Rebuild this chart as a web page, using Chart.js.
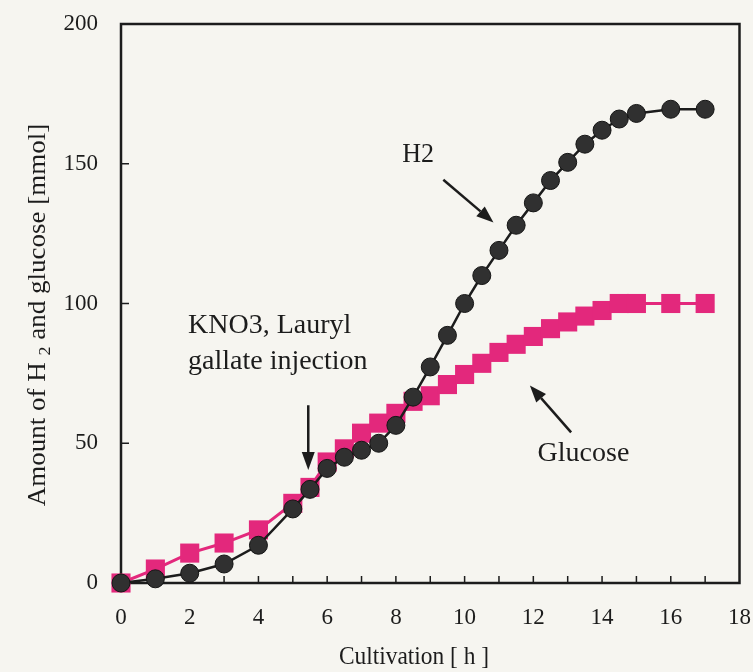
<!DOCTYPE html>
<html><head><meta charset="utf-8">
<script src="https://cdn.jsdelivr.net/npm/chart.js@4/dist/chart.umd.min.js"></script>
<style>html,body{margin:0;padding:0;background:#f6f5f0;}#wrap{width:753px;height:672px;}</style>
</head><body><div id="wrap"><canvas id="c" width="753" height="672"></canvas></div>
<script>
// ---- data ----
const hours = [0,1,2,3,4,5,5.5,6,6.5,7,7.5,8,8.5,9,9.5,10,10.5,11,11.5,12,12.5,13,13.5,14,14.5,15,16,17];
const h2Amount = [0,1.5,3.5,6.8,13.5,26.5,33.5,41,45,47.5,50,56.4,66.5,77.3,88.6,100,110,119,128,136,144,150.5,157,162,166,168,169.5,169.5];
const glucoseAmount = [0,5,10.7,14.3,19,28.5,34.2,43.3,48,53.6,57.2,60.7,65,67,71,74.6,78.6,82.5,85.4,88.2,91,93.4,95.5,97.5,100,100,100,100];
const xTickValues = [0,2,4,6,8,10,12,14,16,18];
const yTickValues = [0,50,100,150,200];
const xAxisTitle = 'Cultivation [ h ]';
const yAxisTitleParts = ['Amount of H ', '2', ' and glucose [mmol]'];
const labelH2 = 'H2';
const labelGlucose = 'Glucose';
const labelInjection = ['KNO3, Lauryl', 'gallate injection'];

const INK = '#1c1c1c';
const PINK = '#e3287c';
const SERIF = '"Liberation Serif", "DejaVu Serif", serif';

function arrow(ctx, x1, y1, x2, y2, headLen, headW) {
  const ang = Math.atan2(y2 - y1, x2 - x1);
  const bx = x2 - headLen * Math.cos(ang), by = y2 - headLen * Math.sin(ang);
  ctx.beginPath(); ctx.moveTo(x1, y1); ctx.lineTo(bx, by); ctx.stroke();
  ctx.beginPath();
  ctx.moveTo(x2, y2);
  ctx.lineTo(bx + headW / 2 * Math.sin(ang), by - headW / 2 * Math.cos(ang));
  ctx.lineTo(bx - headW / 2 * Math.sin(ang), by + headW / 2 * Math.cos(ang));
  ctx.closePath(); ctx.fill();
}
function squishText(ctx, txt, x, y, sx, align) {
  ctx.save(); ctx.translate(x, y); ctx.scale(sx, 1);
  ctx.textAlign = align || 'left'; ctx.fillText(txt, 0, 0); ctx.restore();
}

const decor = {
  id: 'decor',
  beforeDraw(chart) {
    const ctx = chart.ctx; ctx.save();
    ctx.fillStyle = '#f6f5f0'; ctx.fillRect(0, 0, chart.width, chart.height); ctx.restore();
  },
  beforeDatasetsDraw(chart) {
    const ctx = chart.ctx, a = chart.chartArea, xs = chart.scales.x, ys = chart.scales.y;
    ctx.save();
    ctx.strokeStyle = INK; ctx.lineWidth = 2.5;
    ctx.strokeRect(a.left, a.top, a.right - a.left, a.bottom - a.top);
    ctx.lineWidth = 1.5;
    ctx.beginPath();
    for (let h = 1; h < 18; h++) {
      const px = xs.getPixelForValue(h);
      ctx.moveTo(px, a.bottom); ctx.lineTo(px, a.bottom - 7);
    }
    for (const v of yTickValues) {
      if (v === 0 || v === 200) continue;
      const py = ys.getPixelForValue(v);
      ctx.moveTo(a.left, py); ctx.lineTo(a.left + 8, py);
    }
    ctx.stroke();
    ctx.restore();
  },
  afterDraw(chart) {
    const ctx = chart.ctx, a = chart.chartArea, xs = chart.scales.x, ys = chart.scales.y;
    const X = v => xs.getPixelForValue(v), Y = v => ys.getPixelForValue(v);
    ctx.save();
    ctx.fillStyle = INK; ctx.strokeStyle = INK;
    ctx.textBaseline = 'alphabetic';
    // x title
    ctx.font = '26px ' + SERIF;
    squishText(ctx, xAxisTitle, 414, 664, 0.9, 'center');
    // y title with subscript
    ctx.save();
    ctx.translate(45, 315); ctx.rotate(-Math.PI / 2); ctx.scale(1, 0.9);
    const big = '27px ' + SERIF, small = '18px ' + SERIF;
    ctx.font = big; const w1 = ctx.measureText(yAxisTitleParts[0]).width, w3 = ctx.measureText(yAxisTitleParts[2]).width;
    ctx.font = small; const w2 = ctx.measureText(yAxisTitleParts[1]).width;
    let x0 = -(w1 + w2 + w3) / 2;
    ctx.font = big; ctx.textAlign = 'left'; ctx.fillText(yAxisTitleParts[0], x0, 0);
    ctx.font = small; ctx.fillText(yAxisTitleParts[1], x0 + w1, 6);
    ctx.font = big; ctx.fillText(yAxisTitleParts[2], x0 + w1 + w2, 0);
    ctx.restore();
    // annotations
    ctx.font = '28px ' + SERIF;
    squishText(ctx, labelH2, X(8.65), Y(150.5), 0.93, 'center');
    squishText(ctx, labelGlucose, X(13.46), Y(43.5), 1, 'center');
    squishText(ctx, labelInjection[0], X(1.95), Y(89.3), 1, 'left');
    squishText(ctx, labelInjection[1], X(1.95), Y(76.6), 1, 'left');
    ctx.lineWidth = 2.5;
    arrow(ctx, X(9.38), Y(144.3), X(10.84), Y(129), 17, 13);
    arrow(ctx, X(13.1), Y(53.9), X(11.9), Y(70.7), 17, 13);
    arrow(ctx, X(5.45), Y(63.6), X(5.45), Y(40.4), 18, 13);
    ctx.restore();
  }
};

const ctx = document.getElementById('c').getContext('2d');
new Chart(ctx, {
  type: 'line',
  data: {
    datasets: [
      {
        label: labelH2,
        data: hours.map((h, i) => ({ x: h, y: h2Amount[i] })),
        borderColor: INK, borderWidth: 2.5,
        pointStyle: 'circle', pointRadius: 9, pointBackgroundColor: '#303030',
        pointBorderColor: '#151515', pointBorderWidth: 1, tension: 0, clip: false
      },
      {
        label: labelGlucose,
        data: hours.map((h, i) => ({ x: h, y: glucoseAmount[i] })),
        borderColor: PINK, borderWidth: 3,
        pointStyle: 'rect', pointRadius: 13.5, pointBackgroundColor: PINK,
        pointBorderColor: PINK, pointBorderWidth: 0, tension: 0, clip: false
      }
    ]
  },
  options: {
    responsive: false, animation: false, devicePixelRatio: 1,
    layout: { padding: { left: 0, right: 13, top: 24, bottom: 0 } },
    plugins: { legend: { display: false }, tooltip: { enabled: false } },
    scales: {
      x: {
        type: 'linear', min: 0, max: 18,
        afterBuildTicks: s => { s.ticks = xTickValues.map(v => ({ value: v })); },
        afterFit: s => { s.height = 89; s.paddingLeft = 0; s.paddingRight = 0; },
        grid: { display: false }, border: { display: false },
        ticks: { color: INK, padding: 13, font: { family: SERIF, size: 23 }, maxRotation: 0, autoSkip: false }
      },
      y: {
        min: 0, max: 200,
        afterBuildTicks: s => { s.ticks = yTickValues.map(v => ({ value: v })); },
        afterFit: s => { s.width = 121; s.paddingTop = 0; s.paddingBottom = 0; },
        grid: { display: false }, border: { display: false },
        ticks: { color: INK, padding: 15, font: { family: SERIF, size: 23 } }
      }
    }
  },
  plugins: [decor]
});
</script></body></html>
